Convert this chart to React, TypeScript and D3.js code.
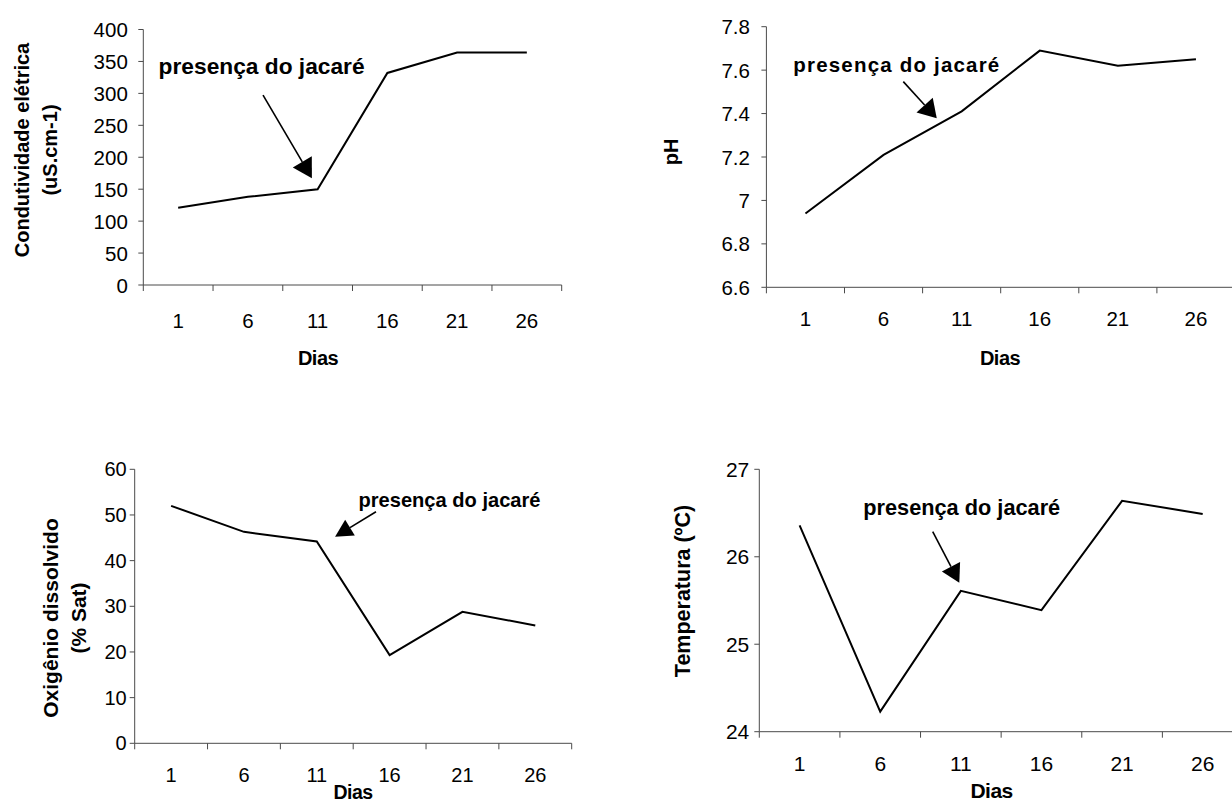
import React from "react";
import * as d3 from "d3";

// ---- data ----
const dias = ["1", "6", "11", "16", "21", "26"];
const condutividade = [121, 138, 150, 332, 364, 364];
const ph = [6.94, 7.21, 7.41, 7.69, 7.62, 7.65];
const oxigenio = [52.0, 46.3, 44.2, 19.3, 28.8, 25.8];
const temperatura = [26.36, 24.23, 25.61, 25.39, 26.64, 26.49];

const condTicks = [0, 50, 100, 150, 200, 250, 300, 350, 400];
const phTicks = [6.6, 6.8, 7, 7.2, 7.4, 7.6, 7.8];
const oxTicks = [0, 10, 20, 30, 40, 50, 60];
const tempTicks = [24, 25, 26, 27];

const annotationText = "presença do jacaré";
const xTitle = "Dias";

type Note = {
  text: [number, number]; // [band units, value]
  start: [number, number];
  tip: [number, number];
  fontSize: number;
  textLength: number;
  adjust: string;
  headLen: number;
  headW: number;
};

type Panel = {
  x0: number;
  x1: number;
  xAxisEnd: number;
  yTop: number;
  yBottom: number;
  domain: [number, number];
  values: number[];
  ticks: number[];
  tickFont: number;
  yLabelGap: number;
  xLabelY: number;
  titleLines: string[];
  titleXs: number[];
  titleY: number;
  titleFont: number;
  diasX: number;
  diasY: number;
  diasFont: number;
  note: Note;
};

const panels: Panel[] = [
  {
    x0: 143.3, x1: 561.7, xAxisEnd: 561.7, yTop: 29.5, yBottom: 285,
    domain: [0, 400], values: condutividade, ticks: condTicks,
    tickFont: 20.5, yLabelGap: 15.5, xLabelY: 320,
    titleLines: ["Condutividade elétrica", "(uS.cm-1)"], titleXs: [22, 50], titleY: 150, titleFont: 20,
    diasX: 318, diasY: 358, diasFont: 20,
    note: { text: [1.697, 341.8], start: [1.717, 297.3], tip: [2.418, 167.0], fontSize: 22, textLength: 206, adjust: "spacingAndGlyphs", headLen: 19, headW: 22 },
  },
  {
    x0: 766.4, x1: 1235, xAxisEnd: 1235, yTop: 26.7, yBottom: 287.3,
    domain: [6.6, 7.8], values: ph, ticks: phTicks,
    tickFont: 20.5, yLabelGap: 16.5, xLabelY: 318,
    titleLines: ["pH"], titleXs: [671], titleY: 152, titleFont: 20,
    diasX: 1000, diasY: 358, diasFont: 20,
    note: { text: [1.663, 7.624], start: [1.753, 7.547], tip: [2.181, 7.378], fontSize: 20.5, textLength: 206, adjust: "spacing", headLen: 18, headW: 22 },
  },
  {
    x0: 134.7, x1: 571.7, xAxisEnd: 571.7, yTop: 469.3, yBottom: 743.3,
    domain: [0, 60], values: oxigenio, ticks: oxTicks,
    tickFont: 20, yLabelGap: 8, xLabelY: 775,
    titleLines: ["Oxigênio dissolvido", "(% Sat)"], titleXs: [50, 78.5], titleY: 618, titleFont: 21,
    diasX: 353, diasY: 791.5, diasFont: 19.5,
    note: { text: [4.322, 53.28], start: [3.313, 50.71], tip: [2.751, 45.24], fontSize: 21, textLength: 182, adjust: "spacingAndGlyphs", headLen: 17.5, headW: 18.5 },
  },
  {
    x0: 759.3, x1: 1243, xAxisEnd: 1243, yTop: 469.3, yBottom: 731.7,
    domain: [24, 27], values: temperatura, ticks: tempTicks,
    tickFont: 21, yLabelGap: 10, xLabelY: 763,
    titleLines: ["Temperatura (ºC)"], titleXs: [682.5], titleY: 591, titleFont: 21.5,
    diasX: 991.6, diasY: 790, diasFont: 21,
    note: { text: [2.511, 26.554], start: [2.151, 26.287], tip: [2.481, 25.704], fontSize: 21.5, textLength: 197, adjust: "spacingAndGlyphs", headLen: 18, headW: 20.5 },
  },
];

const FONT = "'Liberation Sans', Arial, Helvetica, sans-serif";
const AXIS = "#4a4a4a";

function ChartPanel({ p }: { p: Panel }) {
  const x = d3.scaleBand<string>().domain(dias).range([p.x0, p.x1]).padding(0);
  const xu = d3.scaleLinear().domain([0, dias.length]).range([p.x0, p.x1]);
  const y = d3.scaleLinear().domain(p.domain).range([p.yBottom, p.yTop]);
  const bw = x.bandwidth();

  const line = d3
    .line<number>()
    .x((_, i) => (x(dias[i]) as number) + bw / 2)
    .y((d) => y(d));

  const boundaries = d3.range(dias.length + 1).map((i) => xu(i));

  // annotation arrow
  const sx = xu(p.note.start[0]);
  const sy = y(p.note.start[1]);
  const tx = xu(p.note.tip[0]);
  const ty = y(p.note.tip[1]);
  const dx = tx - sx;
  const dy = ty - sy;
  const L = Math.hypot(dx, dy);
  const ux = dx / L;
  const uy = dy / L;
  const bx = tx - ux * p.note.headLen;
  const by = ty - uy * p.note.headLen;
  const hw = p.note.headW / 2;
  const head = [
    [tx, ty],
    [bx - uy * hw, by + ux * hw],
    [bx + uy * hw, by - ux * hw],
  ]
    .map((q) => q.join(","))
    .join(" ");

  return (
    <g>
      {/* y axis */}
      <line x1={p.x0} x2={p.x0} y1={p.yTop} y2={p.yBottom} stroke={AXIS} strokeWidth={1} />
      {p.ticks.map((t) => (
        <g key={"yt" + t}>
          <line x1={p.x0 - 5} x2={p.x0} y1={y(t)} y2={y(t)} stroke={AXIS} strokeWidth={1} />
          <text
            x={p.x0 - p.yLabelGap}
            y={y(t)}
            textAnchor="end"
            dominantBaseline="central"
            fontFamily={FONT}
            fontSize={p.tickFont}
            fill="#000"
          >
            {String(t)}
          </text>
        </g>
      ))}
      {/* x axis */}
      <line x1={p.x0} x2={p.xAxisEnd} y1={p.yBottom} y2={p.yBottom} stroke={AXIS} strokeWidth={1} />
      {boundaries.map((bxv, i) => (
        <line key={"xt" + i} x1={bxv} x2={bxv} y1={p.yBottom} y2={p.yBottom + 6} stroke={AXIS} strokeWidth={1} />
      ))}
      {dias.map((d) => (
        <text
          key={"xl" + d}
          x={(x(d) as number) + bw / 2}
          y={p.xLabelY}
          textAnchor="middle"
          dominantBaseline="central"
          fontFamily={FONT}
          fontSize={p.tickFont}
          fill="#000"
        >
          {d}
        </text>
      ))}
      {/* x title */}
      <text
        x={p.diasX}
        y={p.diasY}
        textAnchor="middle"
        dominantBaseline="central"
        fontFamily={FONT}
        fontWeight="bold"
        fontSize={p.diasFont}
        letterSpacing={-0.5}
        fill="#000"
      >
        {xTitle}
      </text>
      {/* y title */}
      {p.titleLines.map((t, i) => (
        <text
          key={"tt" + i}
          transform={`translate(${p.titleXs[i]},${p.titleY}) rotate(-90)`}
          textAnchor="middle"
          dominantBaseline="central"
          fontFamily={FONT}
          fontWeight="bold"
          fontSize={p.titleFont}
          fill="#000"
        >
          {t}
        </text>
      ))}
      {/* data line */}
      <path d={line(p.values) || ""} fill="none" stroke="#000" strokeWidth={2} strokeLinejoin="miter" />
      {/* annotation */}
      <text
        x={xu(p.note.text[0])}
        y={y(p.note.text[1])}
        textAnchor="middle"
        dominantBaseline="central"
        fontFamily={FONT}
        fontWeight="bold"
        fontSize={p.note.fontSize}
        textLength={p.note.textLength}
        lengthAdjust={p.note.adjust}
        fill="#000"
      >
        {annotationText}
      </text>
      <line x1={sx} y1={sy} x2={bx} y2={by} stroke="#000" strokeWidth={1.6} />
      <polygon points={head} fill="#000" />
    </g>
  );
}

export default function App() {
  return (
    <svg
      width={1232}
      height={801}
      viewBox="0 0 1232 801"
      style={{ position: "absolute", left: 0, top: 0, background: "#fff" }}
    >
      <rect x={0} y={0} width={1232} height={801} fill="#fff" />
      {panels.map((p, i) => (
        <ChartPanel key={i} p={p} />
      ))}
    </svg>
  );
}
